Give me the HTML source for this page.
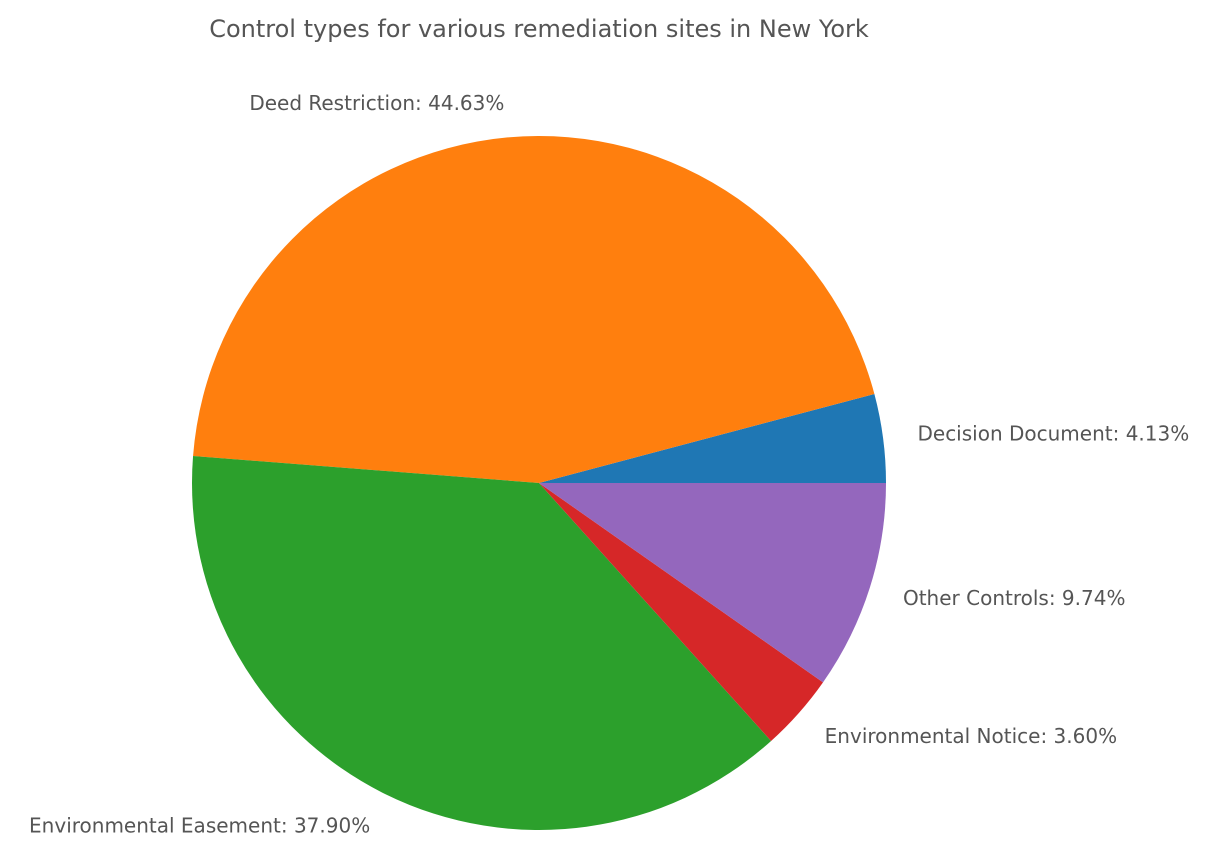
<!DOCTYPE html>
<html><head><meta charset="utf-8"><style>
html,body{margin:0;padding:0;background:#fff;}
svg{display:block;font-family:"DejaVu Sans","Liberation Sans",sans-serif;}
</style></head><body>
<svg id="chart" width="1216" height="864">
<text x="539" y="37" text-anchor="middle" font-size="24" fill="#555">Control types for various remediation sites in New York</text>
<g id="slices"></g><g id="labels"></g>
</svg>
<script>
const categories = ["Decision Document","Deed Restriction","Environmental Easement","Environmental Notice","Other Controls"];
const values = [4.13, 44.63, 37.90, 3.60, 9.74];
const colors = ["#1f77b4","#ff7f0e","#2ca02c","#d62728","#9467bd"];
const cx=539, cy=483, r=347;
const ns="http://www.w3.org/2000/svg";
const total=values.reduce((a,b)=>a+b,0);
const sg=document.getElementById('slices'), lg=document.getElementById('labels');
let a0=0;
values.forEach((v,i)=>{
  const a1=a0+v/total*360;
  const t0=a0*Math.PI/180, t1=a1*Math.PI/180;
  const x0=cx+r*Math.cos(t0), y0=cy-r*Math.sin(t0), x1=cx+r*Math.cos(t1), y1=cy-r*Math.sin(t1);
  const large=(a1-a0)>180?1:0;
  const p=document.createElementNS(ns,'path');
  p.setAttribute('d',`M${cx},${cy} L${x0},${y0} A${r},${r} 0 ${large} 0 ${x1},${y1} Z`);
  p.setAttribute('fill',colors[i]);
  
  
  sg.appendChild(p);
  const tm=(a0+a1)/2*Math.PI/180;
  const lx=cx+1.1*r*Math.cos(tm), ly=cy-1.1*r*Math.sin(tm);
  const t=document.createElementNS(ns,'text');
  t.setAttribute('x',lx); t.setAttribute('y',ly+7);
  t.setAttribute('text-anchor',Math.cos(tm)>=0?'start':'end');
  t.setAttribute('font-size','20'); t.setAttribute('fill','#555');
  t.textContent=categories[i]+': '+v.toFixed(2)+'%';
  
  
  lg.appendChild(t);
  a0=a1;
});
</script>
</body></html>
